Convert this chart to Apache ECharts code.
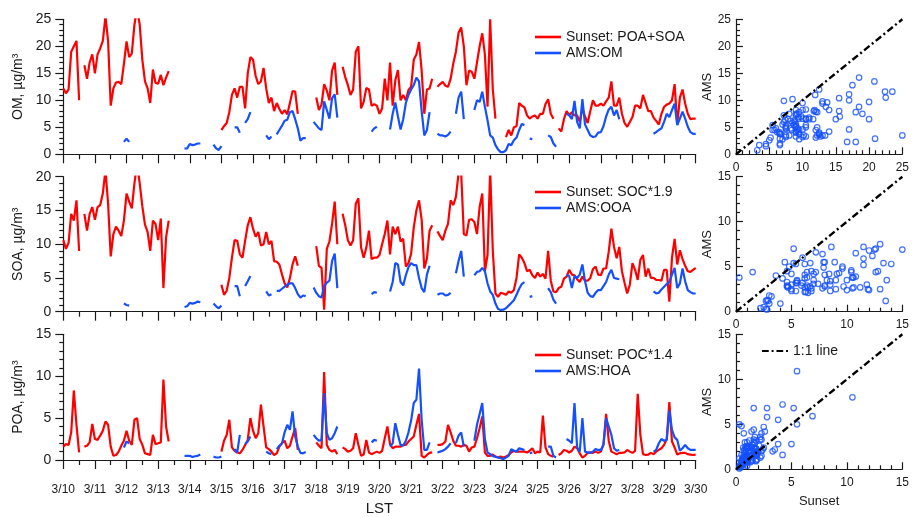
<!DOCTYPE html>
<html>
<head>
<meta charset="utf-8">
<script src="https://cdn.jsdelivr.net/npm/echarts/dist/echarts.min.js"></script>
<style>
  html, body { margin: 0; padding: 0; background: #fff; }
  #chart { width: 912px; height: 517px; }
</style>
</head>
<body>
<div id="chart"></div>
<script>
// ---- data: two-hourly samples starting 3/10 00:00 LST, one row per day ----
const _ = null;
const stepHours = 2;
const dayLabels = ['3/10','3/11','3/12','3/13','3/14','3/15','3/16','3/17','3/18','3/19','3/20',
                   '3/21','3/22','3/23','3/24','3/25','3/26','3/27','3/28','3/29','3/30'];

const sunsetOM = [
  12.2, 11.3, 12, 19, 20, 21, 10, _, 16.5, 14, 17, 18.5,          // 3/10
  15, 18.5, 19.6, 21, 25.5, 21, 9, 12.2, 13.3, 13.4, 13, 16.7,    // 3/11
  20.9, 18, 18.7, 24, 27, 24, 17.5, 13.5, 12.2, 9.5, 15.7, 13.2,  // 3/12
  13.1, 14.7, 12.8, 14.2, 15.4, _, _, _, _, _, _, _,              // 3/13
  _, _, _, _, _, _, _, _, _, _, _, _,                             // 3/14
  4.5, 5.2, 5.8, 7.8, 11, 12.2, 10.5, 12.5, 12.5, 8.5, 15, 18,    // 3/15
  17.5, 14.5, 13, 13.5, 16, 12.2, 9.5, 10.5, 8, 9.5, 8.4, 7.5,    // 3/16
  8.2, 7.4, 9.5, 11.7, 11.6, 7.5, _, _, _, _, _, _,               // 3/17
  10.5, 8.2, 9.2, 13, 11.8, 10, 15.5, 17, 11, _, 16.2, 14.3,      // 3/18
  12.8, 11, 12, 19, 20, 8.5, 9.7, 12.3, 12, 9, 9.3, 9,            // 3/19
  7.5, 8.5, 14, 10, 17, 9, 13.7, 15.6, 10, 11, 10, 11.9,          // 3/20
  12.5, 17.5, 18.5, 20.8, 15.5, 7.5, 12, 12.2, 14, _, 12.5, 13,   // 3/21
  13.4, 12.7, 12.5, 14, 16.8, 19, 22.5, 23.5, 20, 12.8, 15.5, 15.3, // 3/22
  14, 17, 20, 22.4, 18.5, 8.8, 25, 12, 6.6, _, _, _,              // 3/23
  3.2, 4.5, 3.5, 5, 5.2, 9.5, 9, 8.7, 7.2, 6.6, 7, 7.2,           // 3/24
  6.6, 7.5, 7.5, 9.3, 10.2, 7.5, 6.6, _, 4.8, 4.2, 6.5, 8,        // 3/25
  7.2, 7.8, 7.2, 7.2, 6, 8.5, 7, 5.8, 8, 10, 9, 9,                // 3/26
  9.4, 9, 9.8, 10.5, 13.5, 9, 9, 10.5, 7.5, 5.8, 5.1, 6,          // 3/27
  6.9, 9, 9, 8.5, 11, 9.5, 8, 8, 6.8, 6.2, 5.5, 7.5,              // 3/28
  8.8, 9.2, 9.4, 10, 13, 5.5, 10.5, 12, 9.4, 7.5, 6.5, 6.6,       // 3/29
  6.6                                                             // 3/30
];

const amsOM = [
  _, _, _, _, _, _, _, _, _, _, _, _,                             // 3/10
  _, _, _, _, _, _, _, _, _, _, _, 2.3,                           // 3/11
  2.9, 2.3, _, _, _, _, _, _, _, _, _, _,                         // 3/12
  _, _, _, _, _, _, _, _, _, _, 1.05, 1.1,                        // 3/13
  1.9, 1.7, 1.8, 2.0, 2.0, _, _, _, _, 1.8, 1.1, 0.8,             // 3/14
  1.5, _, _, _, _, 5.0, 5.0, 4.0, _, 5.8, 6.5, 7.8,               // 3/15
  _, _, _, _, _, 3.5, 2.8, 3.3, _, 3.7, 4.5, 5.3,                 // 3/16
  6.2, 6.4, 7.8, 8.0, 6.5, 4.8, 2.5, 3.0, 3.0, _, _, 6.0,         // 3/17
  5.4, 4.8, 4.5, 9.8, 8.2, 6.6, 10.4, 11.1, 6.8, _, _, _,         // 3/18
  _, _, _, _, _, _, _, _, _, 4.2, 4.8, 5.1,                       // 3/19
  _, _, _, _, 4.6, 7.5, 9.6, 7.0, 4.6, 6.5, 9.5, 11,              // 3/20
  12, 12.8, 14.2, 13.5, 8, 3.5, 4.5, 7.8, _, _, 3.8, 3.5,         // 3/21
  3.5, 3.3, 3.6, 4.2, _, 7.5, 10.5, 11.6, 6.5, _, _, _,           // 3/22
  8.2, 10, 9.7, 11.6, 8.8, 6.3, 3.5, 3.1, 1.7, 0.9, 0.4, 0.4,     // 3/23
  0.75, 1.9, 1.7, 2.6, 3.1, 4.5, 5.6, 5.4, _, 2.9, 2.8, _,        // 3/24
  _, _, _, _, 3.5, 3.2, 2.0, 1.4, _, _, _, 7.5,                   // 3/25
  7.2, 6.5, 9.9, 6, 4.8, 10.2, 5.5, 4.5, 3.5, 3.2, 3.3, 4,        // 3/26
  4.1, 5.2, 7, 8.3, 8.8, 7.2, 8.2, 6.5, _, _, _, _,               // 3/27
  _, _, _, _, _, _, _, _, 3.8, 4.1, 4.5, 4.8,                     // 3/28
  6, 7.5, 6.9, 8.2, 9.4, 5.4, 6.6, 7.9, 6.6, 5.1, 4.1, 3.8,       // 3/29
  3.8                                                             // 3/30
];

const sunsetSOA = [
  10.6, 9.3, 10.2, 14.5, 13.5, 16.5, 9, _, 14.5, 12, 14.5, 15.5,  // 3/10
  13.6, 15.5, 15.8, 17.5, 21, 16, 8.2, 11.5, 12.6, 12, 11.2, 13.5,// 3/11
  17.5, 16.3, 15.3, 19, 22, 19, 15.6, 12.9, 11.8, 9, 13.5, 13,    // 3/12
  10.6, 13.8, 3.5, 11, 13.5, _, _, _, _, _, _, _,                 // 3/13
  _, _, _, _, _, _, _, _, _, _, _, _,                             // 3/14
  4, 2.5, 3.1, 5, 8, 10.6, 10.5, 8.5, 8, 10.5, 12.8, 14,          // 3/15
  12.3, 11.1, 11.8, 9.8, 10, 11.8, 10, 10.5, 7.5, 7.4, 7, 5.5,    // 3/16
  4.2, 3.6, 5, 7, 8.2, 6.8, _, _, _, _, _, _,                     // 3/17
  9.7, 6.8, 6.5, 0.3, 9.3, 10.4, 13, 16.3, 10, _, 14.5, 12.8,     // 3/18
  10.6, 9.8, 10.6, 16, 16.8, 9.5, 8, 9.5, 12, 7.8, 8, 8,          // 3/19
  8.4, 10, 11.5, 13.5, 8.5, 12.6, 11.5, 12.6, 10.4, 10.8, 6.7, 7.2, // 3/20
  8.6, 12.5, 15, 16.5, 13.6, 6.4, 7.9, 12, 12.8, _, 11.9, 11.2,   // 3/21
  10.6, 12, 13, 16.5, 15.8, 17, 20.5, 20.5, 11.5, 11.3, 13.6, 13.7, // 3/22
  13.3, 11.5, 15.5, 17.5, 6, 8.4, 21, 9, 2.7, 2.2, 2.8, 2.7,      // 3/23
  2.5, 3, 2.8, 3.2, 5, 8.5, 8, 7.2, 6, 6.2, 5.4, 5,               // 3/24
  5.8, 5.2, 5.6, 4.9, 9, 4.6, 3, 2.9, 3.5, 3.7, 4.9, 5.2,         // 3/25
  6.2, 5.5, 5.4, 4.8, 4.4, 5.2, 4.6, 4.6, 5, 6.3, 6.7, 5.5,       // 3/26
  5.4, 6.4, 6.4, 8.9, 12.3, 9.6, 7.9, 9.6, 6, 4.3, 2.7, 4,        // 3/27
  7.2, 6.2, 4.7, 7.7, 8.4, 5.2, 6.4, 5, 5, 4.7, 4.7, 4.6,         // 3/28
  6.2, 6.2, 1.5, 8, 10.8, 7, 9.1, 7.8, 6.8, 6, 5.9, 6.2,          // 3/29
  6.5                                                             // 3/30
];

const amsOOA = [
  _, _, _, _, _, _, _, _, _, _, _, _,                             // 3/10
  _, _, _, _, _, _, _, _, _, _, _, 1.2,                           // 3/11
  1.0, 0.9, _, _, _, _, _, _, _, _, _, _,                         // 3/12
  _, _, _, _, _, _, _, _, _, _, 0.7, 0.8,                         // 3/13
  1.3, 1.2, 1.3, 1.5, 1.4, _, _, _, _, 1.2, 0.8, 0.5,             // 3/14
  0.9, _, _, _, _, 3.8, 3.8, 2.3, _, 3.8, 4.5, 5.3,               // 3/15
  _, _, _, _, _, 3.0, 2.4, 2.6, _, 3.1, 3.1, 3.4,                 // 3/16
  3.7, 4.0, 4.2, 4.2, 3.5, 2.6, 2.1, 2.4, 2.3, _, _, 3.6,         // 3/17
  2.8, 2.3, 2.1, 3.8, 4.3, 4.6, 7.5, 8.6, 3.5, _, _, _,           // 3/18
  _, _, _, _, _, _, _, _, _, 2.6, 2.9, 2.8,                       // 3/19
  _, _, _, _, 3.0, 4.4, 7.2, 7.0, 4.4, 3.9, 5.4, 6.6,             // 3/20
  7.2, 6.9, 6.9, 5.0, 3.5, 2.9, 5.5, 6.8, _, _, 2.5, 2.7,         // 3/21
  2.7, 2.4, 2.5, 2.8, _, 5.7, 7.5, 9.0, 5.2, _, _, _,             // 3/22
  5.4, 5.9, 6.0, 6.5, 6.0, 4.2, 3.0, 2.5, 1.2, 0.4, 0.25, 0.3,    // 3/23
  0.5, 0.9, 1.3, 1.7, 2.5, 3.4, 4.1, 4.4, _, 2.2, 2.3, _,         // 3/24
  _, _, _, _, 3.5, 2.9, 1.8, 1.2, _, _, _, 5.4,                   // 3/25
  5.3, 3.5, 5.3, 5.0, 5.5, 7.0, 4.5, 2.8, 2.3, 2.2, 2.8, 3.2,     // 3/26
  3.2, 3.8, 4.4, 5.5, 6.2, 5.0, 4.9, 4.8, _, _, _, _,             // 3/27
  _, _, _, _, _, _, _, _, 3.0, 2.7, 2.8, 3.3,                     // 3/28
  3.7, 4.1, 4.4, 5.5, 6.5, 3.5, 4.2, 6.4, 4.5, 3.2, 2.9, 2.7,     // 3/29
  2.7                                                             // 3/30
];

const sunsetPOA = [
  1.6, 1.9, 1.8, 3.3, 8.3, 4.2, 0.9, _, 1.6, 1.7, 2.1, 4.3,       // 3/10
  2.5, 2.4, 2.9, 3.5, 4.6, 4.2, 1.6, 0.5, 0.6, 1.0, 1.7, 2.3,     // 3/11
  3.5, 2.3, 1.8, 4.8, 5.0, 2.5, 1.8, 0.8, 0.7, 0.6, 3.0, 1.9,     // 3/12
  2.0, 2.1, 9.6, 4.0, 2.2, _, _, _, _, _, _, _,                   // 3/13
  _, _, _, _, _, _, _, _, _, _, _, _,                             // 3/14
  1.0, 2.3, 3.0, 4.8, 1.5, 1.1, 0.9, 0.8, 1.2, 1.8, 2.4, 5.0,     // 3/15
  3.5, 2.6, 3.2, 6.6, 4.0, 1.5, 1.3, 1.0, 0.6, 0.8, 1.6, 2.0,     // 3/16
  2.3, 1.4, 1.7, 2.8, 3.8, 1.2, _, _, _, _, _, _,                 // 3/17
  2.1, 1.7, 1.4, 10.5, 1.8, 1.2, 1.0, 1.2, 0.7, _, 1.5, 1.3,      // 3/18
  1.0, 1.1, 1.4, 3.2, 1.8, 0.5, 0.65, 2.4, 0.9, 0.7, 0.85, 1.0,   // 3/19
  0.85, 1.1, 2.6, 4.0, 1.9, 1.4, 1.6, 1.6, 1.6, 1.8, 1.8, 2.2,    // 3/20
  2.5, 2.8, 4.2, 5.5, 0.5, 0.3, 0.6, 0.85, 0.9, _, 1.8, 1.8,      // 3/21
  1.9, 2.2, 4.2, 3.3, 2.3, 1.7, 1.7, 1.6, 1.8, 1.7, 1.0, 1.5,     // 3/22
  1.6, 2.6, 3.8, 5.2, 0.9, 0.5, 0.5, 0.65, 0.4, 0.3, 0.4, 0.3,    // 3/23
  0.4, 0.6, 0.9, 1.1, 1.0, 1.0, 1.0, 1.0, 0.9, 1.1, 1.4, 0.8,     // 3/24
  1.0, 0.9, 5.3, 1.5, 0.7, 0.5, 0.4, _, 0.6, 0.8, 1.2, 1.1,       // 3/25
  0.9, 1.1, 1.6, 1.4, 0.8, 0.3, 0.5, 0.85, 0.9, 0.85, 1.0, 0.85,  // 3/26
  1.0, 1.9, 5.5, 2.3, 1.0, 0.85, 0.7, 0.85, 0.85, 0.9, 1.2, 1.0,  // 3/27
  0.85, 1.1, 7.9, 3.0, 0.7, 0.6, 0.65, 0.85, 0.7, 1.0, 1.2, 1.4,  // 3/28
  1.8, 2.5, 6.9, 2.2, 1.5, 0.65, 0.8, 0.85, 0.85, 0.7, 0.65, 0.6, // 3/29
  0.65                                                            // 3/30
];

const amsHOA = [
  _, _, _, _, _, _, _, _, _, _, _, _,                             // 3/10
  _, _, _, _, _, _, _, _, _, _, _, 1.5,                           // 3/11
  2.2, 2.0, _, _, _, _, _, _, _, _, _, _,                         // 3/12
  _, _, _, _, _, _, _, _, _, _, 0.5, 0.5,                         // 3/13
  0.5, 0.35, 0.45, 0.5, 0.65, _, _, _, _, 0.4, 0.3, 0.3,          // 3/14
  0.4, _, _, _, _, 1.3, 0.9, 3.0, _, 1.9, 2.2, 2.8,               // 3/15
  _, _, _, _, _, 1.0, 0.8, 0.7, _, 1.3, 1.7, 2.0,                 // 3/16
  3.3, 4.2, 3.6, 5.8, 2.8, 1.6, 0.85, 0.8, 0.95, _, _, 3.0,       // 3/17
  2.6, 2.3, 2.4, 8.0, 3.2, 2.4, 2.6, 3.2, 4.0, _, _, _,           // 3/18
  _, _, _, _, _, _, _, _, _, 2.1, 2.4, 2.3,                       // 3/19
  _, _, _, _, 1.6, 2.0, 4.4, 3.0, 1.8, 1.7, 2.3, 3.3,             // 3/20
  4.7, 6.8, 7.2, 10.9, 4.8, 1.2, 1.2, 2.1, _, _, 0.9, 1.0,        // 3/21
  1.1, 1.3, 1.6, 2.0, _, 2.0, 2.9, 3.3, 1.6, _, _, _,             // 3/22
  2.3, 4.2, 5.5, 6.8, 2.5, 0.9, 0.7, 0.45, 0.4, 0.3, 0.2, 0.1,    // 3/23
  0.3, 0.5, 1.3, 1.1, 1.0, 1.4, 1.3, 1.2, _, 0.8, 0.9, _,         // 3/24
  _, _, _, _, 1.6, 1.6, 0.5, 0.3, _, _, _, 2.5,                   // 3/25
  2.3, 2.0, 6.8, 1.5, 1.0, 5.0, 1.0, 0.9, 0.85, 1.0, 1.3, 1.2,    // 3/26
  1.2, 1.8, 5.0, 4.0, 3.0, 1.4, 1.1, 1.2, _, _, _, _,             // 3/27
  _, _, _, _, _, _, _, _, 1.0, 1.2, 2.0, 2.5,                     // 3/28
  2.3, 2.4, 5.9, 3.6, 2.7, 2.4, 1.1, 1.4, 1.8, 1.4, 1.2, 1.2,     // 3/29
  1.2                                                             // 3/30
];

// ---- layout & style ----
const FONT = '"Liberation Sans", Arial, Helvetica, sans-serif';
const INK = '#1a1a1a';
const RED = '#ff0000';
const BLUE = '#1450ff';
const TIME_LEFT = 63.3, TIME_WIDTH = 632.4;
const SCAT_LEFT = 736, SCAT_WIDTH = 167.3;
const PANEL_TOPS = [19.3, 176.7, 334.3];
const PANEL_H = 135;
// short dash-dot stroke used for the 1:1 legend swatch
const DASH_DOT_ICON = 'path://M0,0H7V2H0Z M10,0H12V2H10Z M15,0H22V2H15Z M25,0H27V2H25Z';

const panels = [
  { yName: 'OM, µg/m³',  yMax: 25, sMax: 25, red: ['Sunset: POA+SOA', sunsetOM],  blue: ['AMS:OM',  amsOM],  legendTop: 24 },
  { yName: 'SOA, µg/m³', yMax: 20, sMax: 15, red: ['Sunset: SOC*1.9', sunsetSOA], blue: ['AMS:OOA', amsOOA], legendTop: 179 },
  { yName: 'POA, µg/m³', yMax: 15, sMax: 15, red: ['Sunset: POC*1.4', sunsetPOA], blue: ['AMS:HOA', amsHOA], legendTop: 342 }
];

// time (in days since 3/10 00:00) paired with each sample
const toSeries = arr => arr.map((v, i) => [i * stepHours / 24, v]);
// simultaneous Sunset / AMS pairs for the scatter panels
const pairUp = (xs, ys) => xs.map((x, i) => (x != null && ys[i] != null) ? [x, ys[i]] : null).filter(Boolean);

const lineTick = { color: INK, width: 1.2 };
const txt = { color: INK, fontFamily: FONT };

const grid = [], xAxis = [], yAxis = [], series = [], legend = [];

panels.forEach((p, k) => {
  const top = PANEL_TOPS[k];
  const last = k === panels.length - 1;

  // time-series panel
  grid.push({ left: TIME_LEFT, top, width: TIME_WIDTH, height: PANEL_H });
  xAxis.push({
    gridIndex: 2 * k, type: 'value', min: 0, max: dayLabels.length - 1, interval: 1,
    axisLine: { show: true, onZero: false, lineStyle: lineTick },
    axisTick: { show: true, inside: false, length: 9, lineStyle: lineTick },
    minorTick: { show: true, splitNumber: 2, length: 5, lineStyle: lineTick },
    splitLine: { show: false }, minorSplitLine: { show: false },
    axisLabel: { show: last, margin: 24, fontSize: 12, ...txt, formatter: v => dayLabels[v] || '' },
    name: last ? 'LST' : '', nameLocation: 'middle', nameGap: 41,
    nameTextStyle: { fontSize: 15, ...txt }
  });
  yAxis.push({
    gridIndex: 2 * k, type: 'value', min: 0, max: p.yMax, interval: 5,
    axisLine: { show: true, onZero: false, lineStyle: lineTick },
    axisTick: { show: true, inside: false, length: 8, lineStyle: lineTick },
    minorTick: { show: true, splitNumber: 5, length: 4, lineStyle: lineTick },
    splitLine: { show: false }, minorSplitLine: { show: false },
    axisLabel: { margin: 12, fontSize: 14, ...txt },
    name: p.yName, nameLocation: 'middle', nameGap: 31,
    nameTextStyle: { fontSize: 14, ...txt }
  });
  series.push({
    type: 'line', name: p.red[0], xAxisIndex: 2 * k, yAxisIndex: 2 * k,
    data: toSeries(p.red[1]), symbol: 'none', connectNulls: false, clip: true,
    lineStyle: { color: RED, width: 2.2 }, itemStyle: { color: RED }, z: 2
  });
  series.push({
    type: 'line', name: p.blue[0], xAxisIndex: 2 * k, yAxisIndex: 2 * k,
    data: toSeries(p.blue[1]), symbol: 'none', connectNulls: false, clip: true,
    lineStyle: { color: BLUE, width: 2.2 }, itemStyle: { color: BLUE }, z: 3
  });
  legend.push({
    data: [p.red[0], p.blue[0]], orient: 'vertical', left: 530, top: p.legendTop,
    icon: 'rect', itemWidth: 26, itemHeight: 2.6, itemGap: 0, selectedMode: false,
    textStyle: { fontSize: 14, lineHeight: 16, ...txt }
  });

  // scatter panel
  grid.push({ left: SCAT_LEFT, top, width: SCAT_WIDTH, height: PANEL_H });
  xAxis.push({
    gridIndex: 2 * k + 1, type: 'value', min: 0, max: p.sMax, interval: 5,
    axisLine: { show: true, onZero: false, lineStyle: lineTick },
    axisTick: { show: true, inside: true, length: 7, lineStyle: lineTick },
    minorTick: { show: true, splitNumber: 5, length: 4, lineStyle: lineTick },
    splitLine: { show: false }, minorSplitLine: { show: false },
    axisLabel: { margin: 7, fontSize: 12, ...txt },
    name: last ? 'Sunset' : '', nameLocation: 'middle', nameGap: 26,
    nameTextStyle: { fontSize: 13, ...txt }
  });
  yAxis.push({
    gridIndex: 2 * k + 1, type: 'value', min: 0, max: p.sMax, interval: 5,
    axisLine: { show: true, onZero: false, lineStyle: lineTick },
    axisTick: { show: true, inside: true, length: 7, lineStyle: lineTick },
    minorTick: { show: true, splitNumber: 5, length: 4, lineStyle: lineTick },
    splitLine: { show: false }, minorSplitLine: { show: false },
    axisLabel: { margin: 5, fontSize: 12, ...txt },
    name: 'AMS', nameLocation: 'middle', nameGap: 16,
    nameTextStyle: { fontSize: 13, ...txt }
  });
  series.push({
    type: 'line', name: '1:1 line', xAxisIndex: 2 * k + 1, yAxisIndex: 2 * k + 1,
    data: [[0, 0], [p.sMax, p.sMax]], symbol: 'none', silent: true,
    lineStyle: { color: '#000', width: 2.4, type: [7, 3, 2, 3] }, itemStyle: { color: '#000' }, z: 3
  });
  series.push({
    type: 'scatter', name: 'pairs ' + (k + 1), xAxisIndex: 2 * k + 1, yAxisIndex: 2 * k + 1,
    data: pairUp(p.red[1], p.blue[1]), symbol: 'circle', symbolSize: 5.5, clip: true,
    itemStyle: { color: 'rgba(0,0,0,0)', borderColor: BLUE, borderWidth: 1.2 }, z: 2
  });
});

legend.push({
  data: ['1:1 line'], left: 757, top: 338, icon: DASH_DOT_ICON,
  itemWidth: 26, itemHeight: 2.6, selectedMode: false,
  textStyle: { fontSize: 14, lineHeight: 16, ...txt }
});

const chart = echarts.init(document.getElementById('chart'), null, { renderer: 'canvas' });
chart.setOption({
  animation: false,
  backgroundColor: '#fff',
  textStyle: { fontFamily: FONT },
  grid, xAxis, yAxis, series, legend
});
</script>
</body>
</html>
